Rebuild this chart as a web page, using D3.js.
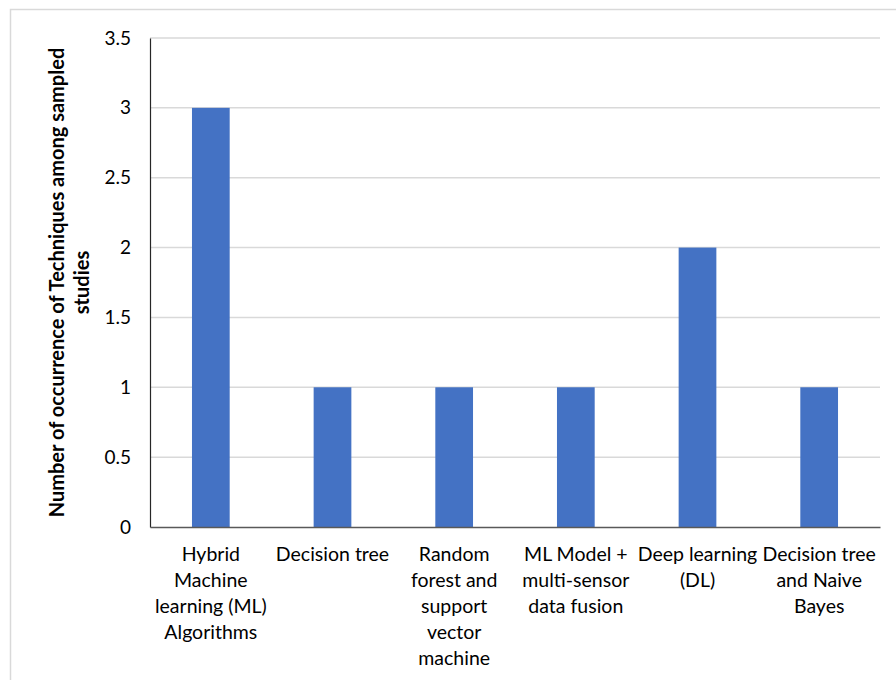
<!DOCTYPE html>
<html>
<head>
<meta charset="utf-8">
<script src="https://cdn.jsdelivr.net/npm/d3@7"></script>
<style>
  html, body { margin: 0; padding: 0; background: #fff; }
  svg { display: block; }
  text { font-family: Lato, "Open Sans", sans-serif; fill: #000; }
</style>
</head>
<body>
<script>
// Techniques and how often each appears among the sampled studies
const categories = [
  "Hybrid Machine learning (ML) Algorithms",
  "Decision tree",
  "Random forest and support vector machine",
  "ML Model + multi-sensor data fusion",
  "Deep learning (DL)",
  "Decision tree and Naive Bayes"
];
// Wrapped lines used for each category label
const categoryLines = [
  ["Hybrid", "Machine", "learning (ML)", "Algorithms"],
  ["Decision tree"],
  ["Random", "forest and", "support", "vector", "machine"],
  ["ML Model +", "multi-sensor", "data fusion"],
  ["Deep learning", "(DL)"],
  ["Decision tree", "and Naive", "Bayes"]
];
const occurrences = [3, 1, 1, 1, 2, 1];
const yTicks = [0, 0.5, 1, 1.5, 2, 2.5, 3, 3.5];
const yTitleLines = ["Number of occurrence of Techniques among sampled", "studies"];

const W = 896, H = 680;
const plot = { left: 150, right: 880, top: 38, bottom: 527 };

const svg = d3.select("body").append("svg")
  .attr("width", W).attr("height", H);

// chart frame
svg.append("rect")
  .attr("x", 10.5).attr("y", 9.5)
  .attr("width", 900).attr("height", 700)
  .attr("fill", "#fff")
  .attr("stroke", "#d9d9d9").attr("stroke-width", 1.5);

const x = d3.scaleBand()
  .domain(categories)
  .range([plot.left, plot.right])
  .padding(0);

const y = d3.scaleLinear()
  .domain([0, 3.5])
  .range([plot.bottom, plot.top]);

// horizontal gridlines
svg.append("g")
  .selectAll("line")
  .data(yTicks.filter(t => t > 0))
  .join("line")
  .attr("x1", plot.left).attr("x2", plot.right)
  .attr("y1", d => y(d)).attr("y2", d => y(d))
  .attr("stroke", "#d9d9d9").attr("stroke-width", 1.5);

// bars
const barFrac = 0.31;
svg.append("g")
  .selectAll("rect")
  .data(categories)
  .join("rect")
  .attr("x", (d) => x(d) + x.bandwidth() * (1 - barFrac) / 2)
  .attr("width", x.bandwidth() * barFrac)
  .attr("y", (d, i) => y(occurrences[i]))
  .attr("height", (d, i) => y(0) - y(occurrences[i]))
  .attr("fill", "#4472C4");

// y axis
const yAxis = d3.axisLeft(y).tickValues(yTicks).tickSize(0).tickPadding(19)
  .tickFormat(d => String(d));
const gy = svg.append("g")
  .attr("transform", `translate(${plot.left},0)`)
  .call(yAxis);
gy.select(".domain").attr("stroke", "#262626").attr("stroke-width", 1.2);
gy.selectAll("text")
  .style("font-family", "Lato, 'Open Sans', sans-serif")
  .style("font-size", "19px")
  .attr("fill", "#000");

// x axis baseline
const xAxis = d3.axisBottom(x).tickSize(0).tickFormat("");
const gx = svg.append("g")
  .attr("transform", `translate(0,${plot.bottom})`)
  .call(xAxis);
gx.select(".domain").attr("stroke", "#595959").attr("stroke-width", 1.5);

// category labels
const labels = svg.append("g")
  .selectAll("text")
  .data(categories)
  .join("text")
  .attr("text-anchor", "middle")
  .style("font-size", "19.5px")
  .attr("transform", d => `translate(${x(d) + x.bandwidth() / 2},561)`);
labels.selectAll("tspan")
  .data((d, i) => categoryLines[i])
  .join("tspan")
  .attr("x", 0)
  .attr("y", (d, j) => j * 26)
  .text(d => d);

// y axis title
const cy = (plot.top + plot.bottom) / 2;
svg.append("text")
  .attr("transform", `translate(57,${cy}) rotate(-90)`)
  .attr("text-anchor", "middle")
  .style("font-size", "20px")
  .style("font-weight", "bold")
  .selectAll("tspan")
  .data(yTitleLines)
  .join("tspan")
  .attr("x", 0)
  .attr("y", (d, j) => j * 25)
  .attr("dy", "0.35em")
  .text(d => d);
</script>
</body>
</html>
